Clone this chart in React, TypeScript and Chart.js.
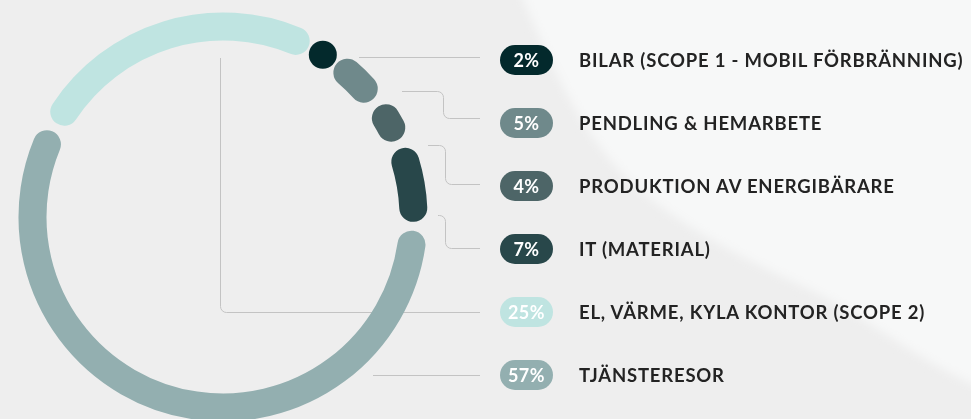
import React, { useEffect, useRef } from "react";
import { Chart, registerables } from "chart.js";

Chart.register(...registerables);

// ---- data ----
const categories = [
  "BILAR (SCOPE 1 - MOBIL FÖRBRÄNNING)",
  "PENDLING & HEMARBETE",
  "PRODUKTION AV ENERGIBÄRARE",
  "IT (MATERIAL)",
  "TJÄNSTERESOR",
  "EL, VÄRME, KYLA KONTOR (SCOPE 2)",
];
const shares = [2, 5, 4, 7, 57, 25];
const colors = ["#03292c", "#6f898b", "#4d6567", "#28474a", "#93afb0", "#bfe4e1"];
// order of the rows in the legend (indices into the arrays above)
const legendOrder = [0, 1, 2, 3, 5, 4];

// ---- layout ----
const W = 971;
const H = 419;
const GAP = 9;
const ROW_TOP = 60;
const ROW_STEP = 63;
const BADGE_X = 500;
const LABEL_X = 579;
const LINE_END = 480;
// connector polylines (decoration, in legend-row order)
const connectors: number[][][] = [
  [[359, 57.5], [LINE_END, 57.5]],
  [[402, 91.5], [443.5, 91.5], [443.5, 118.5], [LINE_END, 118.5]],
  [[428, 145.5], [445.5, 145.5], [445.5, 184.5], [LINE_END, 184.5]],
  [[438, 215.5], [445.5, 215.5], [445.5, 248.5], [LINE_END, 248.5]],
  [[220.5, 58], [220.5, 312.5], [LINE_END, 312.5]],
  [[373, 375.5], [LINE_END, 375.5]],
];

const connectorPlugin = {
  id: "connectors",
  beforeDatasetsDraw(chart: any) {
    const ctx = chart.ctx as CanvasRenderingContext2D;
    ctx.save();
    ctx.strokeStyle = "#c3c3c3";
    ctx.lineWidth = 1;
    connectors.forEach((pts) => {
      ctx.beginPath();
      ctx.moveTo(pts[0][0], pts[0][1]);
      for (let i = 1; i < pts.length - 1; i++) {
        ctx.arcTo(pts[i][0], pts[i][1], pts[i + 1][0], pts[i + 1][1], 6);
      }
      const last = pts[pts.length - 1];
      ctx.lineTo(last[0], last[1]);
      ctx.stroke();
    });
    ctx.restore();
  },
};

const roundArcPlugin = {
  id: "roundArcs",
  beforeDatasetDraw(chart: any, args: any) {
    const ctx = chart.ctx as CanvasRenderingContext2D;
    const ds = chart.data.datasets[args.index];
    ctx.save();
    args.meta.data.forEach((el: any, i: number) => {
      const { x, y, startAngle, endAngle, innerRadius, outerRadius } = el.getProps(
        ["x", "y", "startAngle", "endAngle", "innerRadius", "outerRadius"],
        true
      );
      const w = outerRadius - innerRadius;
      const r = (outerRadius + innerRadius) / 2;
      const trim = (GAP / 2 + w / 2) / r;
      const s = startAngle + trim;
      const e = endAngle - trim;
      const c = ds.backgroundColor[i];
      ctx.strokeStyle = c;
      ctx.fillStyle = c;
      if (e <= s) {
        const m = (startAngle + endAngle) / 2;
        ctx.beginPath();
        ctx.arc(x + r * Math.cos(m), y + r * Math.sin(m), w / 2, 0, Math.PI * 2);
        ctx.fill();
      } else {
        ctx.beginPath();
        ctx.lineWidth = w;
        ctx.lineCap = "round";
        ctx.arc(x, y, r, s, e);
        ctx.stroke();
      }
    });
    ctx.restore();
    return false;
  },
};

export default function App() {
  const ref = useRef<HTMLCanvasElement | null>(null);

  useEffect(() => {
    if (!ref.current) return;
    const chart = new Chart(ref.current, {
      type: "doughnut",
      data: {
        labels: categories,
        datasets: [{ data: shares, backgroundColor: colors, borderWidth: 0 }],
      },
      options: {
        responsive: false,
        animation: false,
        rotation: 28,
        radius: 204.5,
        cutout: "86.3%",
        events: [],
        layout: { padding: { left: 0, top: 15, right: 525, bottom: 0 } },
        plugins: { legend: { display: false }, tooltip: { enabled: false } },
      } as any,
      plugins: [connectorPlugin, roundArcPlugin] as any,
    });
    return () => chart.destroy();
  }, []);

  return (
    <div
      style={{
        position: "fixed",
        left: 0,
        top: 0,
        width: W,
        height: H,
        overflow: "hidden",
        background: "#eeeeee",
      }}
    >
      <svg width={W} height={H} style={{ position: "absolute", left: 0, top: 0 }}>
        <defs>
          <filter id="soft" x="-10%" y="-10%" width="120%" height="120%">
            <feGaussianBlur stdDeviation="5" />
          </filter>
        </defs>
        <path
          d="M 515 -20 C 545 50 580 140 640 190 C 690 232 750 262 815 292 C 875 322 915 360 990 392 L 990 -20 Z"
          fill="#f7f8f8"
          filter="url(#soft)"
        />
      </svg>
      <canvas
        ref={ref}
        width={W}
        height={H}
        style={{ position: "absolute", left: 0, top: 0, width: W, height: H }}
      />
      {legendOrder.map((idx, row) => {
        const cy = ROW_TOP + row * ROW_STEP;
        return (
          <React.Fragment key={idx}>
            <div
              style={{
                position: "absolute",
                left: BADGE_X,
                top: cy - 15,
                width: 53,
                height: 30,
                borderRadius: 15,
                background: colors[idx],
                color: "#ffffff",
                display: "flex",
                alignItems: "center",
                justifyContent: "center",
                font: "700 18px Lato, sans-serif",
                letterSpacing: "0.5px",
              }}
            >
              {shares[idx]}%
            </div>
            <div
              style={{
                position: "absolute",
                left: LABEL_X,
                top: cy,
                transform: "translateY(-50%)",
                font: "700 18.5px Lato, sans-serif",
                letterSpacing: "0.8px",
                color: "#232323",
                whiteSpace: "nowrap",
                lineHeight: "24px",
              }}
            >
              {categories[idx]}
            </div>
          </React.Fragment>
        );
      })}
    </div>
  );
}
